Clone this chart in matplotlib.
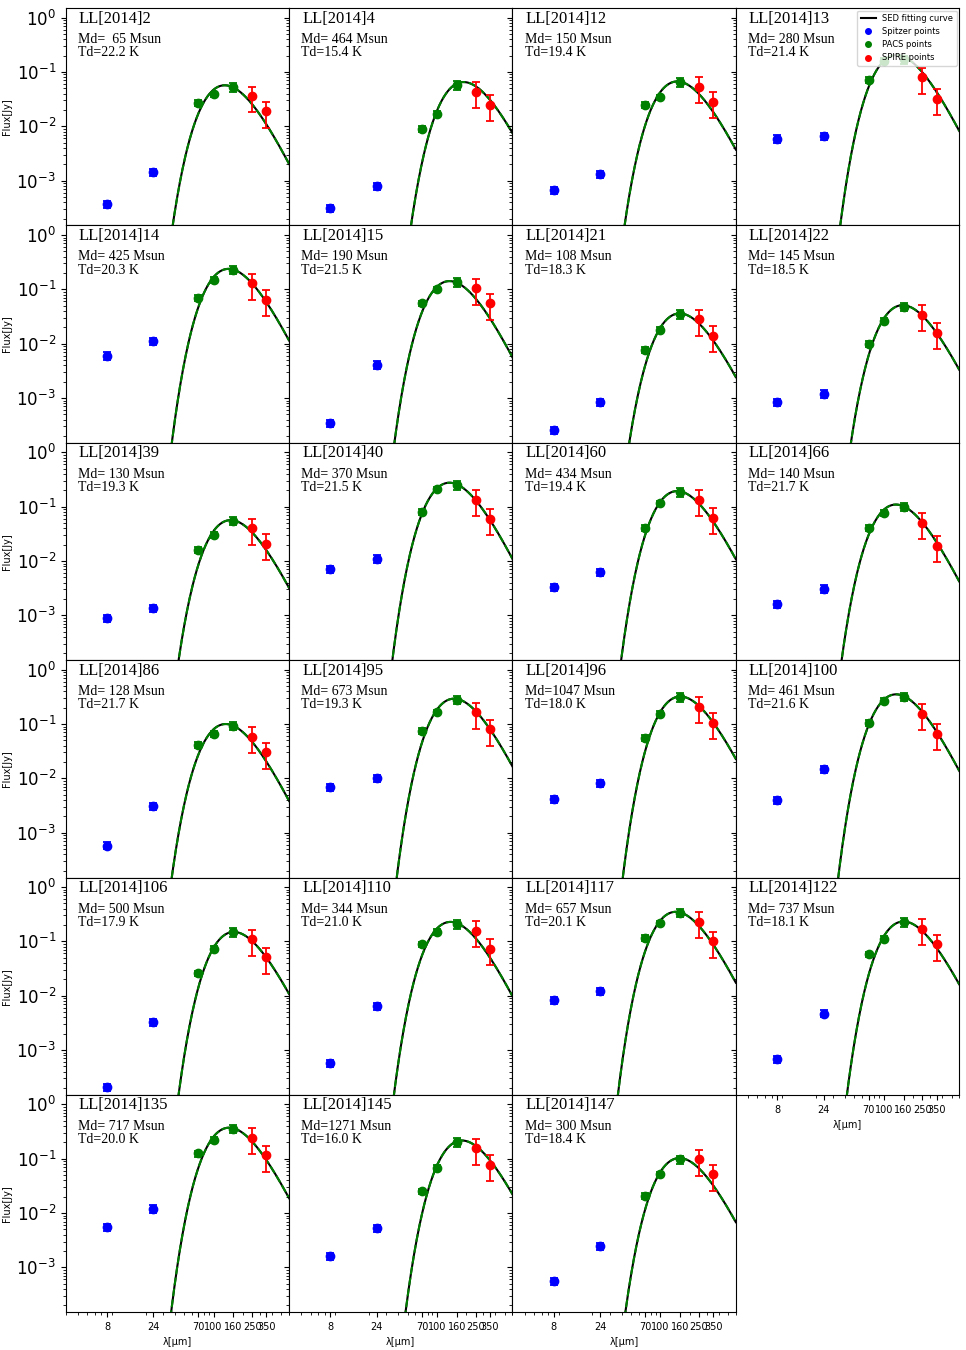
import numpy as np
import matplotlib
matplotlib.use('Agg')
import matplotlib.pyplot as plt
from matplotlib.lines import Line2D

# clump names and fitted parameters
source_ids = ['2', '4', '12', '13', '14', '15', '21', '22', '39', '40', '60', '66',
              '86', '95', '96', '100', '106', '110', '117', '122', '135', '145', '147']
md_values = [65, 464, 150, 280, 425, 190, 108, 145, 130, 370, 434, 140,
             128, 673, 1047, 461, 500, 344, 657, 737, 717, 1271, 300]
td_values = [22.2, 15.4, 19.4, 21.4, 20.3, 21.5, 18.3, 18.5, 19.3, 21.5, 19.4, 21.7,
             21.7, 19.3, 18.0, 21.6, 17.9, 21.0, 20.1, 18.1, 20.0, 16.0, 18.4]

# observed fluxes (Jy) per band
flux_8 = [3.7e-4, 3.1e-4, 6.7e-4, 5.9e-3, 6.0e-3, 3.4e-4, 2.6e-4, 8.5e-4, 9.0e-4, 7.0e-3, 3.3e-3, 1.6e-3,
          5.8e-4, 7.0e-3, 4.1e-3, 4.0e-3, 2.1e-4, 5.8e-4, 8.2e-3, 6.8e-4, 5.5e-3, 1.6e-3, 5.6e-4]
flux_24 = [1.45e-3, 8.0e-4, 1.3e-3, 6.6e-3, 1.1e-2, 4.1e-3, 8.5e-4, 1.2e-3, 1.35e-3, 1.1e-2, 6.2e-3, 3.1e-3,
           3.1e-3, 1.0e-2, 8.2e-3, 1.5e-2, 3.3e-3, 6.4e-3, 1.2e-2, 4.7e-3, 1.2e-2, 5.3e-3, 2.5e-3]
flux_70 = [0.027, 0.009, 0.025, 0.072, 0.070, 0.055, 0.0078, 0.010, 0.016, 0.080, 0.041, 0.041,
           0.042, 0.075, 0.056, 0.105, 0.026, 0.088, 0.115, 0.058, 0.125, 0.025, 0.021]
flux_100 = [0.039, 0.017, 0.034, 0.16, 0.15, 0.10, 0.018, 0.026, 0.030, 0.21, 0.115, 0.078,
            0.066, 0.165, 0.155, 0.27, 0.072, 0.15, 0.215, 0.11, 0.22, 0.069, 0.052]
flux_160 = [0.053, 0.057, 0.065, 0.17, 0.23, 0.135, 0.035, 0.048, 0.055, 0.25, 0.185, 0.10,
            0.094, 0.28, 0.31, 0.32, 0.15, 0.21, 0.34, 0.225, 0.36, 0.20, 0.097]
flux_250 = [0.036, 0.043, 0.053, 0.080, 0.13, 0.105, 0.028, 0.034, 0.040, 0.135, 0.135, 0.050,
            0.058, 0.165, 0.21, 0.155, 0.11, 0.155, 0.23, 0.17, 0.245, 0.155, 0.098]
flux_350 = [0.019, 0.025, 0.028, 0.032, 0.065, 0.055, 0.014, 0.016, 0.021, 0.060, 0.063, 0.019,
            0.030, 0.080, 0.105, 0.066, 0.051, 0.073, 0.10, 0.088, 0.115, 0.078, 0.052]

spitzer_wave = [8, 24]
pacs_wave = [70, 100, 160]
spire_wave = [250, 350]
# relative errors per band
spitzer_err = [0.15, 0.15]
pacs_err = [0.12, 0.12, 0.18]
spire_err = [0.5, 0.5]

xtick_vals = [8, 24, 70, 100, 160, 250, 350]

# greybody model, beta=2, one common distance
h = 6.626e-34
kb = 1.381e-23
c = 2.998e8
beta = 2.0
peak_ref = 0.057  # peak flux of LL[2014]2 curve


def greybody(lam_um, md, td):
    nu = c / (lam_um * 1e-6)
    bnu = 2 * h * nu**3 / c**2 / np.expm1(h * nu / (kb * td))
    return md * (nu / 1e12)**beta * bnu


lam = np.logspace(np.log10(3), np.log10(600), 500)
norm = peak_ref / greybody(lam, md_values[0], td_values[0]).max()

fig, axes = plt.subplots(6, 4, figsize=(9.66, 13.5), dpi=100)
plt.subplots_adjust(left=0.068, right=0.993, top=0.994, bottom=0.028, wspace=0, hspace=0)

n = len(source_ids)
for i, ax in enumerate(axes.flat):
    row, col = divmod(i, 4)
    if i >= n:
        ax.axis('off')
        continue
    md, td = md_values[i], td_values[i]
    sp = [flux_8[i], flux_24[i]]
    pa = [flux_70[i], flux_100[i], flux_160[i]]
    sr = [flux_250[i], flux_350[i]]

    model = norm * greybody(lam, md, td)
    ax.plot(lam, model, color='black', lw=1.5, label='SED fitting curve', zorder=2)
    ax.plot(lam, model, color='green', lw=1.5, ls='--', zorder=2)

    for w, f, e, col_ in [(spitzer_wave, sp, spitzer_err, 'blue'),
                          (pacs_wave, pa, pacs_err, 'green'),
                          (spire_wave, sr, spire_err, 'red')]:
        f = np.array(f)
        ax.errorbar(w, f, yerr=f * np.array(e), fmt='o', color=col_, ms=6,
                    capsize=3, elinewidth=1.3, capthick=1.3, zorder=3)

    ax.set_xscale('log')
    ax.set_yscale('log')
    ax.set_xlim(3, 600)
    ax.set_ylim(1.5e-4, 1.5)
    ax.set_xticks(xtick_vals)
    ax.set_xticklabels([str(v) for v in xtick_vals])
    ax.tick_params(axis='x', labelsize=7)
    ax.tick_params(axis='y', labelsize=12)

    ax.text(0.058, 0.988, 'LL[2014]' + source_ids[i], transform=ax.transAxes,
            ha='left', va='top', fontsize=12, family='Liberation Serif')
    ax.text(0.055, 0.855, f'Md={md:4d} Msun', transform=ax.transAxes,
            ha='left', va='center', fontsize=10, family='Liberation Serif')
    ax.text(0.055, 0.795, f'Td={td:.1f} K', transform=ax.transAxes,
            ha='left', va='center', fontsize=10, family='Liberation Serif')

    if col == 0:
        ax.set_ylabel('Flux[Jy]', fontsize=7)
        ax.yaxis.set_label_coords(-0.24, 0.5)
    else:
        ax.tick_params(axis='y', which='both', labelleft=False)

    if i + 4 >= n:
        ax.set_xlabel('λ[μm]', fontsize=7)
    else:
        ax.tick_params(axis='x', which='both', labelbottom=False)

    if i == 3:
        handles = [Line2D([], [], color='black', lw=1.5),
                   Line2D([], [], marker='o', ls='none', color='blue', ms=4),
                   Line2D([], [], marker='o', ls='none', color='green', ms=4),
                   Line2D([], [], marker='o', ls='none', color='red', ms=4)]
        ax.legend(handles, ['SED fitting curve', 'Spitzer points', 'PACS points', 'SPIRE points'],
                  loc='upper right', fontsize=6, borderaxespad=0.3, handlelength=1.8)

plt.savefig('out.png', dpi=100)
